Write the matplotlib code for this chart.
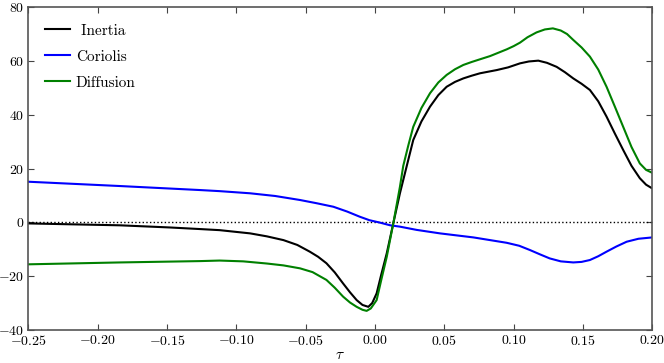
import matplotlib
matplotlib.use("Agg")
import matplotlib.pyplot as plt
from matplotlib.ticker import FormatStrFormatter

plt.rcParams['font.family'] = 'serif'
plt.rcParams['font.serif'] = ['cmr10']
plt.rcParams['mathtext.fontset'] = 'cm'
plt.rcParams['axes.formatter.use_mathtext'] = True

# valores
tau_inertia = [-0.25, -0.184, -0.148, -0.126, -0.112, -0.090, -0.078, -0.066,
               -0.056, -0.047, -0.041, -0.035, -0.029, -0.023, -0.018, -0.0132,
               -0.009, -0.0048, -0.002, 0.0012, 0.0045, 0.0085, 0.0132, 0.018,
               0.0227, 0.0276, 0.0335, 0.0397, 0.0457, 0.0517, 0.0577, 0.0637,
               0.0697, 0.0757, 0.0878, 0.096, 0.1046, 0.111, 0.1178, 0.124,
               0.131, 0.137, 0.143, 0.149, 0.155, 0.161, 0.167, 0.173, 0.179,
               0.185, 0.191, 0.1955, 0.20]
inertia = [-0.4, -1.1, -1.9, -2.5, -2.9, -4.1, -5.2, -6.6,
           -8.4, -10.9, -12.8, -15.2, -18.6, -22.7, -26.0, -28.9,
           -30.7, -31.4, -30.0, -26.4, -19.5, -11.5, -0.4, 10.8,
           20.5, 30.6, 37.5, 43.0, 47.3, 50.4, 52.2, 53.5,
           54.5, 55.4, 56.6, 57.6, 59.1, 59.8, 60.1, 59.3,
           57.8, 55.8, 53.5, 51.5, 49.2, 45.0, 39.3, 33.0, 26.9,
           21.0, 16.4, 14.0, 12.6]

tau_coriolis = [-0.25, -0.184, -0.126, -0.112, -0.090, -0.072, -0.054, -0.042,
                -0.030, -0.020, -0.011, -0.004, 0.0036, 0.011, 0.018, 0.030,
                0.0469, 0.071, 0.095, 0.104, 0.1118, 0.119, 0.126, 0.134,
                0.143, 0.149, 0.155, 0.161, 0.167, 0.174, 0.1815, 0.19, 0.20]
coriolis = [15.1, 13.5, 12.0, 11.6, 10.8, 9.8, 8.3, 7.1,
            5.8, 4.0, 2.1, 0.8, -0.1, -1.1, -1.6, -2.8,
            -4.1, -5.6, -7.6, -8.7, -10.3, -11.9, -13.4, -14.5,
            -14.9, -14.7, -14.0, -12.6, -10.9, -9.0, -7.2, -6.1, -5.6]

tau_diffusion = [-0.25, -0.184, -0.126, -0.112, -0.095, -0.078, -0.066, -0.054,
                 -0.045, -0.035, -0.029, -0.023, -0.018, -0.0132, -0.009, -0.006,
                 -0.003, 0.0012, 0.0045, 0.0085, 0.0132, 0.018, 0.0204, 0.024,
                 0.0276, 0.0335, 0.0397, 0.0457, 0.0517, 0.0577, 0.0637, 0.0697,
                 0.0757, 0.083, 0.0878, 0.095, 0.100, 0.1046, 0.110, 0.1165,
                 0.1225, 0.1283, 0.134, 0.1385, 0.143, 0.149, 0.155, 0.161,
                 0.167, 0.173, 0.179, 0.185, 0.191, 0.1955, 0.20]
diffusion = [-15.6, -14.9, -14.4, -14.2, -14.5, -15.3, -16.0, -17.1,
             -18.5, -21.4, -24.3, -27.6, -29.8, -31.4, -32.5, -32.9,
             -32.0, -28.9, -21.5, -12.8, -0.4, 13.2, 21.0, 28.5,
             35.5, 42.5, 48.0, 52.0, 54.8, 56.9, 58.5, 59.6,
             60.6, 61.8, 62.8, 64.3, 65.5, 66.8, 68.8, 70.6,
             71.7, 72.1, 71.3, 70.0, 67.8, 65.0, 61.6, 56.8,
             50.4, 43.0, 35.5, 28.0, 21.9, 19.5, 18.4]

fig = plt.figure(figsize=(6.64, 3.63), dpi=100)
ax = fig.add_axes([0.0426, 0.091, 0.9398, 0.8894])

ax.axhline(0, color='black', linestyle=':', linewidth=1.0)
ax.plot(tau_inertia, inertia, color='black', linewidth=1.5, label=' Inertia')
ax.plot(tau_coriolis, coriolis, color='blue', linewidth=1.5, label='Coriolis')
ax.plot(tau_diffusion, diffusion, color='green', linewidth=1.5, label='Diffusion')

ax.set_xlim(-0.25, 0.20)
ax.set_ylim(-40, 80)
ax.set_xticks([-0.25, -0.20, -0.15, -0.10, -0.05, 0.0, 0.05, 0.10, 0.15, 0.20])
ax.set_yticks([-40, -20, 0, 20, 40, 60, 80])
ax.xaxis.set_major_formatter(FormatStrFormatter('$%.2f$'))
ax.yaxis.set_major_formatter(FormatStrFormatter('$%d$'))
ax.tick_params(direction='in', top=True, right=True, length=4, labelsize=10,
               color='#444444', pad=3)
for sp in ax.spines.values():
    sp.set_color('#555555')
    sp.set_linewidth(1.2)
ax.set_xlabel(r'$\tau$', fontsize=11, labelpad=0)

ax.legend(loc='upper left', frameon=False, fontsize=11, handlelength=1.6,
          labelspacing=0.8, borderaxespad=0.7, handletextpad=0.4)

fig.savefig('out.png', dpi=100)
